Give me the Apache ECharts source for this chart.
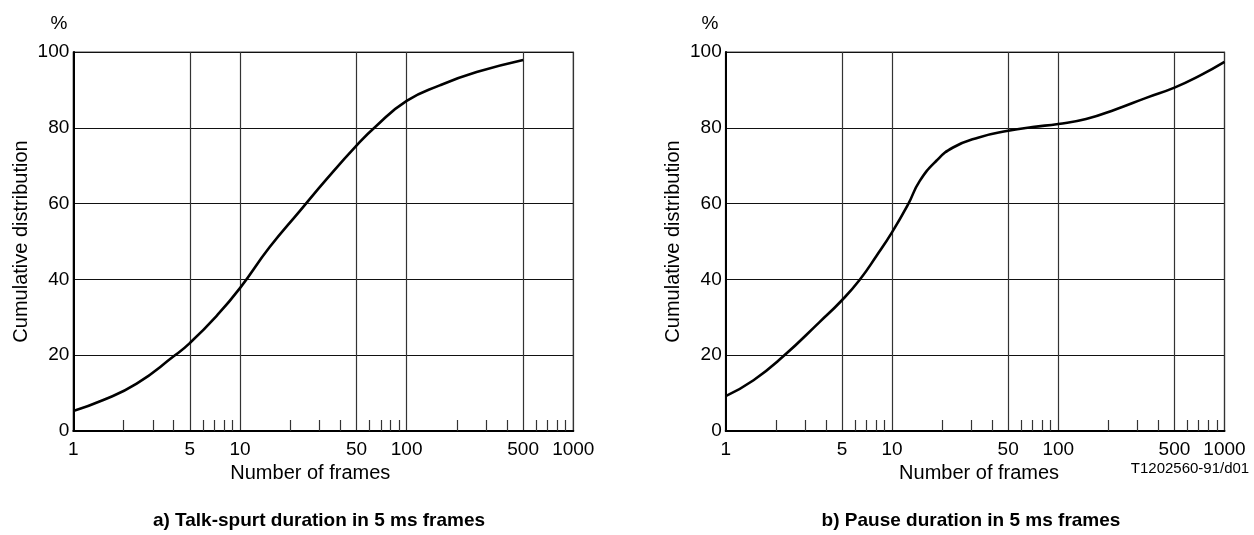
<!DOCTYPE html>
<html>
<head>
<meta charset="utf-8">
<script src="https://cdn.jsdelivr.net/npm/echarts@6/dist/echarts.min.js"></script>
<style>
html,body{margin:0;padding:0;background:#fff;}
#c{width:1254px;height:535px;}
</style>
</head>
<body>
<div id="c"></div>
<script>
// ---- data ----
var talkFrames = [1, 1.5, 2.4, 4, 5, 7.25, 10, 15, 22.9, 33, 50, 65, 100, 158, 263, 500];
var talkValues = [5.3, 8.1, 12.5, 19.7, 23.2, 30.4, 37.7, 48.4, 58.1, 66.4, 75.3, 80.3, 87.1, 91.2, 94.7, 97.9];

var pauseFrames = [1, 1.47, 2.22, 3.68, 5, 6.4, 8.1, 10, 12.5, 14.7, 18.5, 23.3, 32.9, 50, 70, 100, 147, 223, 338, 500, 706, 1000];
var pauseValues = [9.2, 13.4, 19.7, 28.8, 34.5, 39.9, 46.3, 52.4, 59.8, 66, 71.3, 74.8, 77.4, 79.2, 80.2, 81.0, 82.3, 84.9, 87.9, 90.6, 93.7, 97.4];

var majorTicks = [1, 5, 10, 50, 100, 500, 1000];
var minorTicks = [2, 3, 4, 6, 7, 8, 9, 20, 30, 40, 60, 70, 80, 90, 200, 300, 400, 600, 700, 800, 900];

var titleA = 'a) Talk-spurt duration in 5 ms frames';
var titleB = 'b) Pause duration in 5 ms frames';
var xName = 'Number of frames';
var yName = 'Cumulative distribution';
var figCode = 'T1202560-91/d01';

// ---- build ----
var FONT = '"Liberation Sans", Arial, Helvetica, sans-serif';
function lg(v){ return Math.log10(v); }
function pairs(xs, ys){ return xs.map(function(x,i){ return [lg(x), ys[i]]; }); }

var chart = echarts.init(document.getElementById('c'), null, {renderer:'canvas'});

var grids = [
  {left: 73.3, right: 680.7, top: 52, bottom: 104, show: true, borderColor: '#444', borderWidth: 1.2, containLabel: false},
  {left: 725.7, right: 29.5, top: 52, bottom: 104, show: true, borderColor: '#444', borderWidth: 1.2, containLabel: false}
];

function mainX(gi, pad){
  return {
    type: 'value', gridIndex: gi, min: 0, max: 3, position: 'bottom',
    name: xName, nameLocation: 'middle', nameGap: 31,
    nameTextStyle: {fontFamily: FONT, fontSize: 20, color: '#000', padding: pad},
    axisLine: {show: true, lineStyle: {color: '#000', width: 2}},
    axisTick: {show: false, customValues: majorTicks.map(lg)},
    axisLabel: {
      show: true, customValues: majorTicks.map(lg), margin: 9,
      fontFamily: FONT, fontSize: 19, color: '#000',
      formatter: function(v){ return String(Math.round(Math.pow(10, v))); }
    },
    splitLine: {show: true, lineStyle: {color: '#333', width: 1.2}}
  };
}
function minorX(gi){
  return {
    type: 'value', gridIndex: gi, min: 0, max: 3, position: 'bottom',
    axisLine: {show: false},
    axisTick: {show: true, inside: true, length: 11, customValues: minorTicks.map(lg), lineStyle: {color: '#333', width: 1.2}},
    axisLabel: {show: false},
    splitLine: {show: false}
  };
}
function mainY(gi){
  return {
    type: 'value', gridIndex: gi, min: 0, max: 100, interval: 20,
    name: yName, nameLocation: 'middle', nameGap: 42, nameRotate: 90,
    nameTextStyle: {fontFamily: FONT, fontSize: 20, color: '#000'},
    axisLine: {show: true, lineStyle: {color: '#000', width: 2}},
    axisTick: {show: false},
    axisLabel: {margin: 4, fontFamily: FONT, fontSize: 19, color: '#000'},
    splitLine: {show: true, lineStyle: {color: '#111', width: 1.2}}
  };
}

var option = {
  backgroundColor: '#fff',
  animation: false,
  grid: grids,
  xAxis: [mainX(0, [0, 26, 0, 0]), minorX(0), mainX(1, [0, 0, 0, 8]), minorX(1)],
  yAxis: [mainY(0), mainY(1)],
  series: [
    {type: 'line', xAxisIndex: 0, yAxisIndex: 0, data: pairs(talkFrames, talkValues),
     showSymbol: false, smooth: 0.5, clip: false,
     lineStyle: {color: '#000', width: 2.6}},
    {type: 'line', xAxisIndex: 2, yAxisIndex: 1, data: pairs(pauseFrames, pauseValues),
     showSymbol: false, smooth: 0.5, clip: false,
     lineStyle: {color: '#000', width: 2.6}}
  ],
  graphic: [
    {type: 'text', x: 59, y: 24, style: {text: '%', font: '19px ' + FONT, fill: '#000', align: 'center', verticalAlign: 'middle'}},
    {type: 'text', x: 710, y: 24, style: {text: '%', font: '19px ' + FONT, fill: '#000', align: 'center', verticalAlign: 'middle'}},
    {type: 'text', x: 319, y: 521, style: {text: titleA, font: 'bold 19px ' + FONT, fill: '#000', align: 'center', verticalAlign: 'middle'}},
    {type: 'text', x: 971, y: 521, style: {text: titleB, font: 'bold 19px ' + FONT, fill: '#000', align: 'center', verticalAlign: 'middle'}},
    {type: 'text', x: 1190, y: 469, style: {text: figCode, font: '15px ' + FONT, fill: '#000', align: 'center', verticalAlign: 'middle'}}
  ]
};
chart.setOption(option);
</script>
</body>
</html>
